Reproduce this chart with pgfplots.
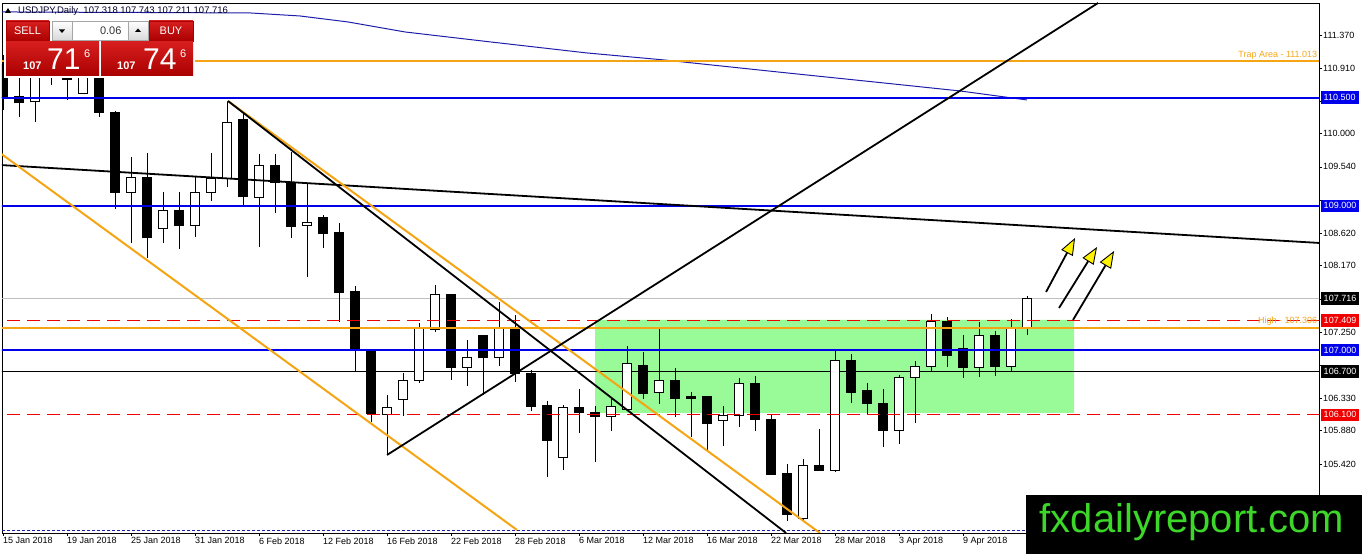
\documentclass[border=0pt]{standalone}
\usepackage{fontspec}
\setmainfont{Liberation Sans}
\usepackage{pgfplots}
\pgfplotsset{compat=1.18}
\usepackage{pgfplotstable}
\usetikzlibrary{arrows.meta}
\definecolor{mtorange}{RGB}{245,165,20}
\definecolor{mtblue}{RGB}{0,0,235}
\definecolor{mtnavy}{RGB}{30,30,170}
\definecolor{zonegreen}{RGB}{152,251,152}
\definecolor{mtred}{RGB}{240,0,0}
\definecolor{wmgreen}{RGB}{60,215,40}
\definecolor{btnred}{RGB}{215,30,30}
\definecolor{btndark}{RGB}{170,0,0}
\tikzset{pricebox/.style={anchor=west, text=white, inner xsep=3pt, inner ysep=0pt, minimum height=12.5pt, font=\fontsize{9}{10}\selectfont, xshift=1.5pt}}

\pgfplotstableread{
i o h l c
0 110.953 111.092 110.329 110.496
1 110.510 110.884 110.232 110.426
2 110.440 110.953 110.163 110.856
3 111.023 111.231 110.676 110.884
4 110.773 110.884 110.468 110.745
5 110.551 110.953 110.551 110.856
6 110.801 110.856 110.232 110.288
7 110.288 110.315 108.956 109.178
8 109.178 109.677 108.485 109.386
9 109.386 109.733 108.277 108.554
10 108.679 109.192 108.485 108.928
11 108.928 109.192 108.401 108.720
12 108.720 109.400 108.568 109.178
13 109.178 109.733 109.067 109.372
14 109.372 110.454 109.261 110.149
15 110.191 110.288 108.998 109.136
16 109.109 109.719 108.429 109.553
17 109.553 109.719 108.901 109.317
18 109.317 109.747 108.554 108.707
19 108.720 109.303 108.013 108.762
20 108.831 108.873 108.415 108.609
21 108.623 108.762 107.389 107.791
22 107.805 107.888 106.695 106.987
23 106.973 106.987 106.002 106.113
24 106.099 106.376 105.544 106.196
25 106.307 106.681 106.085 106.584
26 106.584 107.375 106.543 107.306
27 107.278 107.902 107.250 107.763
28 107.763 107.777 106.584 106.751
29 106.751 107.139 106.501 106.890
30 107.195 107.195 106.376 106.903
31 106.903 107.666 106.779 107.306
32 107.306 107.486 106.557 106.681
33 106.668 106.723 106.154 106.210
34 106.224 106.293 105.239 105.738
35 105.503 106.238 105.336 106.196
36 106.196 106.460 105.849 106.127
37 106.127 106.224 105.447 106.071
38 106.071 106.321 105.877 106.210
39 106.168 107.056 106.168 106.806
40 106.779 106.973 106.321 106.390
41 106.404 107.306 106.252 106.571
42 106.571 106.751 106.071 106.321
43 106.349 106.418 105.794 106.321
44 106.362 106.362 105.600 105.974
45 106.016 106.224 105.669 106.085
46 106.085 106.612 105.933 106.529
47 106.529 106.640 105.877 106.043
48 106.043 106.099 105.267 105.267
49 105.281 105.419 104.629 104.712
50 104.670 105.489 104.643 105.392
51 105.405 105.905 105.322 105.322
52 105.322 107.014 105.308 106.848
53 106.848 106.945 106.265 106.404
54 106.432 106.543 106.113 106.265
55 106.265 106.460 105.655 105.877
56 105.877 106.654 105.697 106.612
57 106.612 106.848 105.988 106.765
58 106.765 107.500 106.709 107.389
59 107.389 107.458 106.765 106.917
60 107.014 107.209 106.612 106.751
61 106.751 107.389 106.626 107.195
62 107.195 107.264 106.640 106.765
63 106.765 107.430 106.695 107.292
64 107.318 107.743 107.211 107.716
}\candles

\begin{document}
\begin{tikzpicture}[x=1pt,y=1pt]
\useasboundingbox (0,0) rectangle (1362,554);
\begin{axis}[
  at={(2pt,21pt)}, anchor=south west,
  scale only axis, width=1317pt, height=530pt,
  xmin=-0.0625, xmax=82.25, ymin=104.462, ymax=111.813,
  axis line style={black, line width=0.8pt},
  clip mode=individual,
  xtick={0,4,...,60},
  xticklabels={15 Jan 2018,19 Jan 2018,25 Jan 2018,31 Jan 2018,6 Feb 2018,12 Feb 2018,16 Feb 2018,22 Feb 2018,28 Feb 2018,6 Mar 2018,12 Mar 2018,16 Mar 2018,22 Mar 2018,28 Mar 2018,3 Apr 2018,9 Apr 2018},
  xtick pos=bottom, ytick pos=right, yticklabel pos=right,
  tick align=outside, major tick length=3pt,
  tick style={black, line width=0.6pt},
  xticklabel style={anchor=north west, inner sep=0pt, yshift=-1.5pt, font=\fontsize{9}{10}\selectfont},
  ytick={111.37,110.91,110.45,110.0,109.54,109.08,108.62,108.17,107.71,107.25,106.79,106.33,105.88,105.42,104.96},
  yticklabels={111.370,110.910,,110.000,109.540,,108.620,108.170,,107.250,,106.330,105.880,105.420,},
  yticklabel style={anchor=west, inner sep=0pt, xshift=1pt, font=\fontsize{9}{10}\selectfont},
]
% support/resistance zone
\addplot[fill=zonegreen, draw=none, forget plot] coordinates {(37,107.417) (66.94,107.417) (66.94,106.127) (37,106.127) (37,107.417)};
% horizontal levels
\addplot[black!25, line width=1pt, forget plot] coordinates {(-1,107.716) (83,107.716)};
\addplot[black, line width=1pt, forget plot] coordinates {(-1,106.7) (83,106.7)};
\addplot[mtnavy, line width=0.9pt, dash pattern=on 3pt off 2pt, forget plot] coordinates {(-1,104.504) (83,104.504)};
% moving average
\addplot[mtnavy, line width=1pt, forget plot] coordinates {(-0.19,111.689) (15.44,111.675) (18.56,111.633) (21.56,111.550) (25.13,111.411) (30.5,111.272) (36.5,111.120) (41.31,111.023) (48.44,110.856) (54.44,110.718) (59.81,110.593) (64,110.468)};
% candles
\pgfplotsinvokeforeach{0,...,64}{
  \pgfplotstablegetelem{#1}{o}\of\candles \edef\co{\pgfplotsretval}
  \pgfplotstablegetelem{#1}{h}\of\candles \edef\ch{\pgfplotsretval}
  \pgfplotstablegetelem{#1}{l}\of\candles \edef\cl{\pgfplotsretval}
  \pgfplotstablegetelem{#1}{c}\of\candles \edef\cc{\pgfplotsretval}
  \pgfmathsetmacro\xa{#1-0.31}
  \pgfmathsetmacro\xb{#1+0.31}
  \pgfmathtruncatemacro\up{\cc>=\co}
  \ifnum\up=1 \def\fc{white}\else\def\fc{black}\fi
  \edef\next{%
    \noexpand\addplot[black, line width=1pt, forget plot] coordinates {(#1,\cl) (#1,\ch)};
    \noexpand\addplot[draw=black, fill=\fc, line width=1pt, forget plot] coordinates {(\xa,\co) (\xb,\co) (\xb,\cc) (\xa,\cc) (\xa,\co)};
  }\next
}
% blue level lines
\addplot[mtblue, line width=1.9pt, forget plot] coordinates {(-1,110.5) (83,110.5)};
\addplot[mtblue, line width=1.5pt, forget plot] coordinates {(-1,109.0) (83,109.0)};
\addplot[mtblue, line width=1.1pt, forget plot] coordinates {(-1,107.0) (83,107.0)};
% horizontal object lines
\addplot[mtred, line width=1pt, dash pattern=on 13pt off 7pt, forget plot] coordinates {(-1,107.409) (83,107.409)};
\addplot[mtred, line width=1pt, dash pattern=on 13pt off 7pt, forget plot] coordinates {(-1,106.100) (83,106.100)};
\addplot[mtorange, line width=2pt, forget plot] coordinates {(-1,107.306) (83,107.306)};
\addplot[mtorange, line width=2pt, forget plot] coordinates {(-1,111.013) (83,111.013)};
% trend lines
\addplot[black, line width=1.8pt, forget plot] coordinates {(-0.1875,109.566) (82.25,108.485)};
\addplot[mtorange, line width=2pt, forget plot] coordinates {(-0.1875,109.733) (32.125,104.504)};
\addplot[mtorange, line width=2pt, forget plot] coordinates {(14.06,110.454) (51.06,104.462)};
\addplot[black, line width=1.8pt, forget plot] coordinates {(14.06,110.454) (48.94,104.462)};
\addplot[black, line width=1.8pt, forget plot] coordinates {(24,105.544) (68.44,111.813)};
% arrows
\addplot[black, line width=1.8pt, -{Triangle[length=17pt,width=13pt,fill=yellow,line width=0.9pt]}, forget plot] coordinates {(65.19,107.805) (67.0,108.554)};
\addplot[black, line width=1.8pt, -{Triangle[length=17pt,width=13pt,fill=yellow,line width=0.9pt]}, forget plot] coordinates {(66.0,107.583) (68.375,108.429)};
\addplot[black, line width=1.8pt, -{Triangle[length=17pt,width=13pt,fill=yellow,line width=0.9pt]}, forget plot] coordinates {(66.875,107.417) (69.44,108.374)};
% object labels
\node[anchor=south east, inner sep=0pt, text=mtorange, font=\fontsize{9}{10}\selectfont, yshift=1.5pt] at (axis cs:82.15,111.013) {Trap Area - 111.013};
\node[anchor=south east, inner sep=0pt, text=mtorange, font=\fontsize{9}{10}\selectfont, yshift=2pt] at (axis cs:82.15,107.306) {High - 107.306};
% price boxes on the scale
\node[pricebox, fill=mtblue] at (axis cs:82.25,110.5) {110.500};
\node[pricebox, fill=mtblue] at (axis cs:82.25,109.0) {109.000};
\node[pricebox, fill=black] at (axis cs:82.25,107.716) {107.716};
\node[pricebox, fill=mtred] at (axis cs:82.25,107.409) {107.409};
\node[pricebox, fill=mtblue] at (axis cs:82.25,107.0) {107.000};
\node[pricebox, fill=black] at (axis cs:82.25,106.7) {106.700};
\node[pricebox, fill=mtred] at (axis cs:82.25,106.1) {106.100};
\end{axis}
% title
\fill[black] (5,541) -- (11,541) -- (8,546) -- cycle;
\node[anchor=west, inner sep=0pt, font=\fontsize{9.5}{10}\selectfont, text=black!85!blue] at (18,543) {USDJPY,Daily\ \ 107.318 107.743 107.211 107.716};
% trade panel
\fill[white] (4,535) rectangle (195,476);
\shade[top color=btnred, bottom color=btndark, draw=btndark] (6,533) rectangle (49,513);
\node[text=white, font=\fontsize{11}{12}\selectfont] at (27.5,523) {SELL};
\shade[top color=white, bottom color=black!15, draw=black!35] (52,533) rectangle (72,514);
\fill[black] (59,524.5) -- (65,524.5) -- (62,521) -- cycle;
\draw[black!35, fill=white] (72,533) rectangle (128,514);
\node[anchor=east, font=\fontsize{11}{12}\selectfont, text=black!80] at (125,523.5) {0.06};
\shade[top color=white, bottom color=black!15, draw=black!35] (128,533) rectangle (148,514);
\fill[black] (135,522) -- (141,522) -- (138,525.5) -- cycle;
\shade[top color=btnred, bottom color=btndark, draw=btndark] (149,533) rectangle (193,513);
\node[text=white, font=\fontsize{11}{12}\selectfont] at (171,523) {BUY};
\shade[top color=btnred, bottom color=btndark] (6,512) rectangle (99,478);
\shade[top color=btnred, bottom color=btndark] (101,512) rectangle (193,478);
\node[anchor=base west, inner sep=0pt, text=white, font=\bfseries\fontsize{11}{12}\selectfont] at (23,484) {107};
\node[anchor=base west, inner sep=0pt, text=white, font=\fontsize{30}{30}\selectfont] at (47,484) {71};
\node[anchor=base west, inner sep=0pt, text=white, font=\fontsize{11}{12}\selectfont] at (84,496) {6};
\node[anchor=base west, inner sep=0pt, text=white, font=\bfseries\fontsize{11}{12}\selectfont] at (117,484) {107};
\node[anchor=base west, inner sep=0pt, text=white, font=\fontsize{30}{30}\selectfont] at (143,484) {74};
\node[anchor=base west, inner sep=0pt, text=white, font=\fontsize{11}{12}\selectfont] at (180,496) {6};
% watermark
\fill[black] (1026,0) rectangle (1362,59);
\node[anchor=base, inner sep=0pt, text=wmgreen, font=\fontsize{40}{40}\selectfont] at (1192,21) {fxdailyreport.com};
\end{tikzpicture}
\end{document}
